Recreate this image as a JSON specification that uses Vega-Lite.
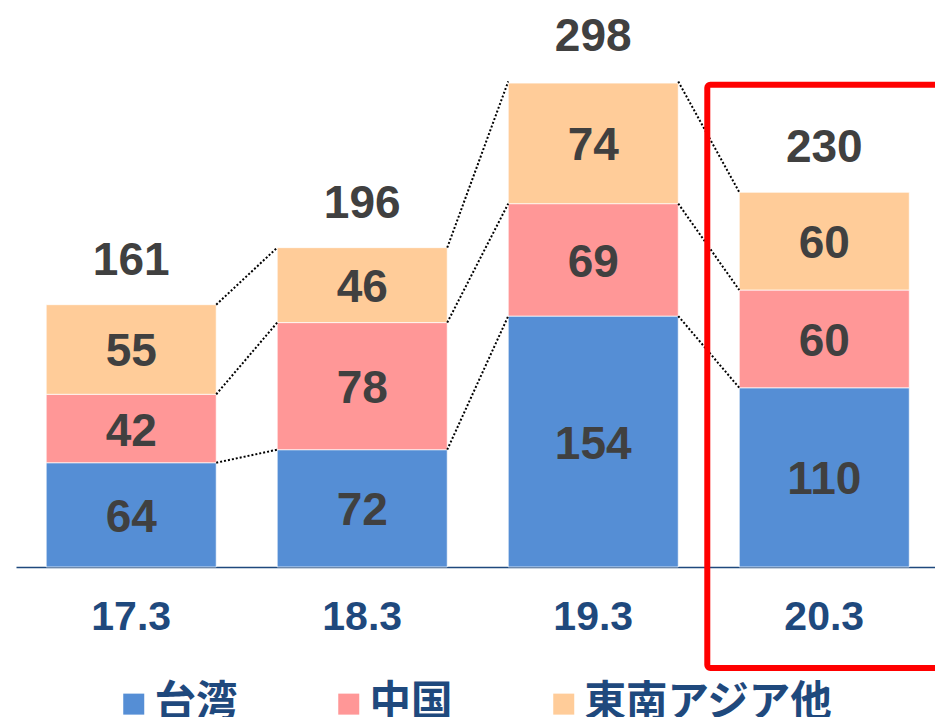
{
  "$schema": "https://vega.github.io/schema/vega-lite/v6.json",
  "width": 919,
  "height": 567,
  "autosize": {"type": "none"},
  "padding": {"left": 16, "top": 0, "right": 0, "bottom": 150},
  "config": {
    "view": {"stroke": null},
    "font": "Liberation Sans",
    "axisX": {
      "labelAngle": 0, "ticks": false, "labelPadding": 30,
      "labelFont": "Liberation Sans", "labelFontWeight": "bold", "labelFontSize": 41,
      "labelColor": "#1F497D", "domainColor": "#1F497D", "domainWidth": 1.5, "grid": false
    }
  },
  "datasets": {
    "bars": [
      {"period": "17.3", "region": "台湾", "value": 64},
      {"period": "17.3", "region": "中国", "value": 42},
      {"period": "17.3", "region": "東南アジア他", "value": 55},
      {"period": "18.3", "region": "台湾", "value": 72},
      {"period": "18.3", "region": "中国", "value": 78},
      {"period": "18.3", "region": "東南アジア他", "value": 46},
      {"period": "19.3", "region": "台湾", "value": 154},
      {"period": "19.3", "region": "中国", "value": 69},
      {"period": "19.3", "region": "東南アジア他", "value": 74},
      {"period": "20.3", "region": "台湾", "value": 110},
      {"period": "20.3", "region": "中国", "value": 60},
      {"period": "20.3", "region": "東南アジア他", "value": 60}
    ],
    "totals": [
      {"period": "17.3", "total": 161},
      {"period": "18.3", "total": 196},
      {"period": "19.3", "total": 298},
      {"period": "20.3", "total": 230}
    ],
    "links": [
      {"from": "17.3", "to": "18.3", "y1": 64, "y2": 72},
      {"from": "17.3", "to": "18.3", "y1": 106, "y2": 150},
      {"from": "17.3", "to": "18.3", "y1": 161, "y2": 196},
      {"from": "18.3", "to": "19.3", "y1": 72, "y2": 154},
      {"from": "18.3", "to": "19.3", "y1": 150, "y2": 223},
      {"from": "18.3", "to": "19.3", "y1": 196, "y2": 298},
      {"from": "19.3", "to": "20.3", "y1": 154, "y2": 110},
      {"from": "19.3", "to": "20.3", "y1": 223, "y2": 170},
      {"from": "19.3", "to": "20.3", "y1": 298, "y2": 230}
    ]
  },
  "layer": [
    {
      "data": {"name": "bars"},
      "transform": [{"calculate": "indexof(['台湾','中国','東南アジア他'], datum.region)", "as": "rank"}],
      "mark": {"type": "bar", "stroke": "#ffffff", "strokeWidth": 1, "strokeOpacity": 0.7},
      "encoding": {
        "x": {
          "field": "period", "type": "nominal", "sort": null,
          "scale": {"domain": ["17.3", "18.3", "19.3", "20.3"], "paddingInner": 0.264, "paddingOuter": 0.121, "align": 0.54},
          "axis": {"title": null}
        },
        "y": {
          "field": "value", "type": "quantitative", "stack": "zero",
          "scale": {"domain": [0, 348], "nice": false, "zero": true},
          "axis": null
        },
        "order": {"field": "rank", "type": "quantitative"},
        "color": {
          "field": "region", "type": "nominal",
          "scale": {"domain": ["台湾", "中国", "東南アジア他"], "range": ["#558ED5", "#FF9797", "#FFCC99"]},
          "legend": {
            "title": null, "orient": "none", "direction": "horizontal",
            "legendX": 97, "legendY": 683, "padding": 0,
            "symbolType": "square", "symbolSize": 441, "symbolStrokeWidth": 0,
            "labelFont": "Noto Sans CJK JP", "labelFontWeight": "bold", "labelFontSize": 41.5,
            "labelColor": "#1F497D", "labelOffset": 0, "columnPadding": 90, "labelLimit": 400
          }
        }
      }
    },
    {
      "data": {"name": "bars"},
      "transform": [{"calculate": "indexof(['台湾','中国','東南アジア他'], datum.region)", "as": "rank"}],
      "mark": {"type": "text", "fontSize": 46, "fontWeight": "bold", "fill": "#404040", "baseline": "middle", "dy": 3},
      "encoding": {
        "x": {"field": "period", "type": "nominal", "axis": {"title": null}},
        "y": {"field": "value", "type": "quantitative", "stack": "zero", "bandPosition": 0.5, "axis": null},
        "detail": {"field": "region"},
        "order": {"field": "rank", "type": "quantitative"},
        "text": {"field": "value", "type": "quantitative"}
      }
    },
    {
      "data": {"name": "totals"},
      "mark": {"type": "text", "fontSize": 46, "fontWeight": "bold", "fill": "#404040", "baseline": "alphabetic", "dy": -30},
      "encoding": {
        "x": {"field": "period", "type": "nominal", "axis": {"title": null}},
        "y": {"field": "total", "type": "quantitative", "axis": null},
        "text": {"field": "total", "type": "quantitative"}
      }
    },
    {
      "data": {"name": "links"},
      "mark": {"type": "rule", "color": "#000000", "strokeWidth": 2, "strokeDash": [2, 2]},
      "encoding": {
        "x": {"field": "from", "type": "nominal", "bandPosition": 1, "axis": {"title": null}},
        "x2": {"field": "to", "bandPosition": 0},
        "y": {"field": "y1", "type": "quantitative", "axis": null},
        "y2": {"field": "y2"}
      }
    },
    {
      "data": {"values": [{}]},
      "mark": {"type": "rect", "fill": null, "fillOpacity": 0, "stroke": "#FF0000", "strokeWidth": 6, "cornerRadius": 3},
      "encoding": {
        "x": {"datum": "20.3", "type": "nominal", "bandPosition": -0.188, "axis": {"title": null}},
        "x2": {"datum": "20.3", "bandPosition": 1.5},
        "y": {"datum": 296, "type": "quantitative", "axis": null},
        "y2": {"datum": -62}
      }
    }
  ]
}
